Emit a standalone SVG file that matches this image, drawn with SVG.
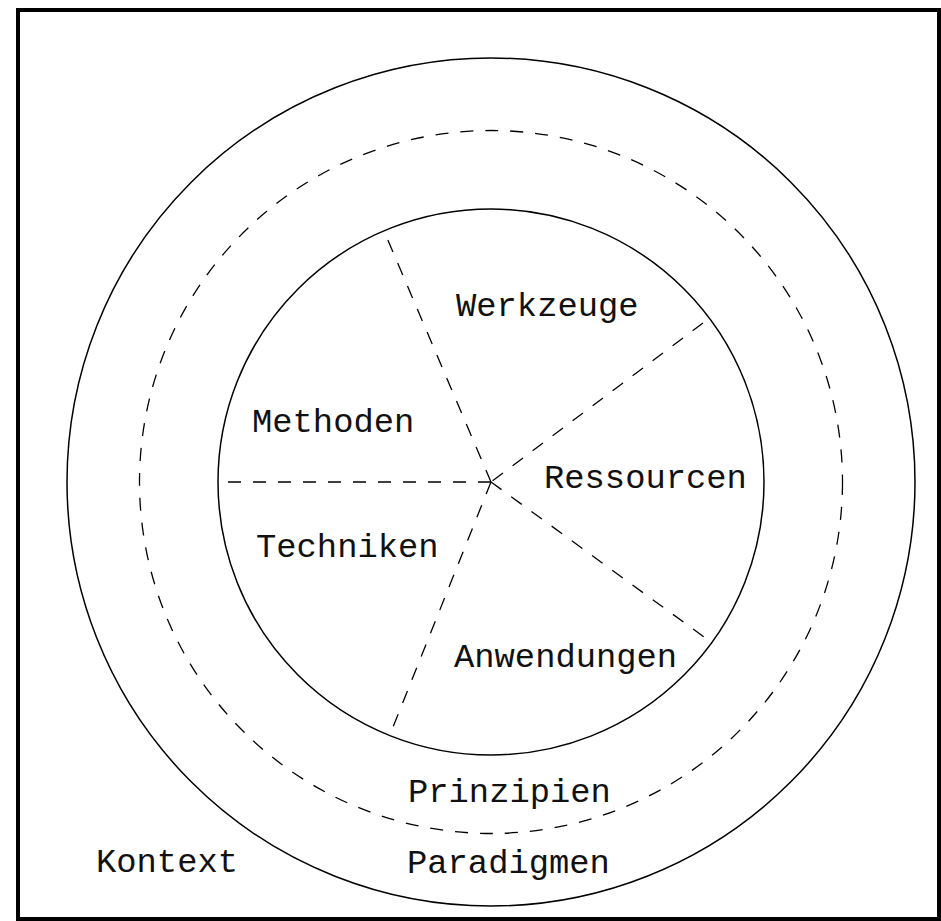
<svg xmlns="http://www.w3.org/2000/svg" width="941" height="921" viewBox="0 0 941 921">
  <style>
    .ring { fill: none; stroke: #000; stroke-width: 1.5; }
    .dash { fill: none; stroke: #000; stroke-width: 1.3; stroke-dasharray: 13 12; }
    .lbl { font-family: "Liberation Mono", "Courier New", monospace; font-size: 33.8px; fill: #111; }
  </style>
  <rect width="941" height="921" fill="#fff"/>
  <!-- frame -->
  <rect x="18" y="10" width="921" height="909" fill="none" stroke="#000" stroke-width="4"/>

  <g id="kontext">
    <circle class="ring" cx="491" cy="482" r="424"/>
    <text class="lbl" x="96" y="872">Kontext</text>
  </g>
  <g id="paradigmen">
    <text class="lbl" x="407" y="873">Paradigmen</text>
  </g>
  <g id="prinzipien">
    <circle class="dash" cx="491" cy="482" r="351.5"/>
    <text class="lbl" x="408" y="802">Prinzipien</text>
  </g>
  <g id="kern">
    <circle class="ring" cx="491" cy="482" r="273"/>
  </g>

  <!-- sector dividers radiating from the centre -->
  <g id="connectors">
    <line class="dash" x1="491" y1="482" x2="219" y2="482"/>
    <line class="dash" x1="491" y1="482" x2="384" y2="231"/>
    <line class="dash" x1="703" y1="323" x2="491" y2="482"/>
    <line class="dash" x1="491" y1="482" x2="704" y2="637"/>
    <line class="dash" x1="491" y1="482" x2="393" y2="727"/>
  </g>

  <g id="werkzeuge"><text class="lbl" x="456" y="316">Werkzeuge</text></g>
  <g id="methoden"><text class="lbl" x="252" y="432">Methoden</text></g>
  <g id="ressourcen"><text class="lbl" x="544" y="488">Ressourcen</text></g>
  <g id="techniken"><text class="lbl" x="256" y="557">Techniken</text></g>
  <g id="anwendungen"><text class="lbl" x="454" y="667">Anwendungen</text></g>
</svg>
